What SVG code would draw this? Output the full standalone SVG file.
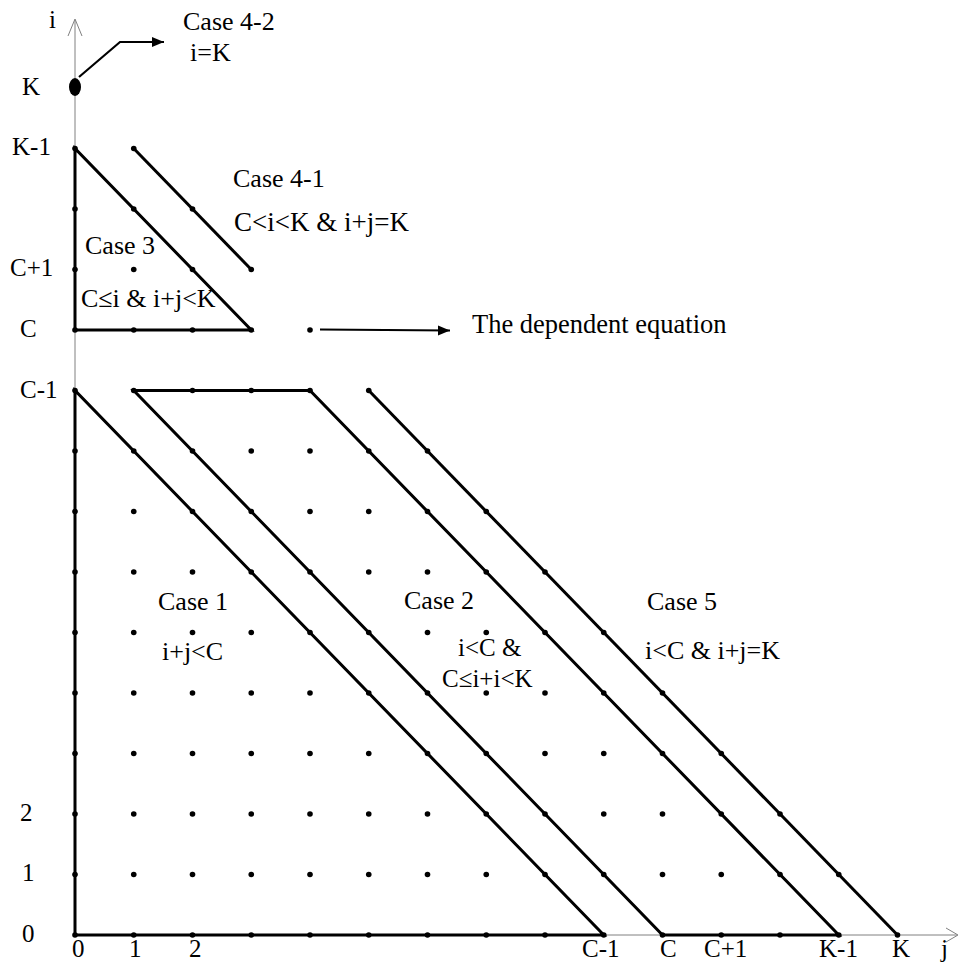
<svg xmlns="http://www.w3.org/2000/svg" xmlns:xlink="http://www.w3.org/1999/xlink" width="959" height="963" viewBox="0 0 959 963">
<style>
.ax{fill:none;stroke:#808080;stroke-width:1}
.th{fill:none;stroke:#000;stroke-width:3;stroke-linejoin:miter}
.ar{fill:none;stroke:#000;stroke-width:2.2}
</style>
<defs>
<circle id="p" r="2.8" fill="#000"/>
<marker id="ah" markerUnits="userSpaceOnUse" markerWidth="14" markerHeight="12" refX="12" refY="5" orient="auto">
<path d="M0,0 L12,5 L0,10 Z" fill="#000"/>
</marker>
</defs>
<rect width="959" height="963" fill="#fff"/>
<g id="axes">
<path class="ax" d="M75,935 V20 M68,36 L75,19 L82,36"/>
<path class="ax" d="M75,935 H957 M946,928 L958,935 L946,942"/>
</g>
<g id="connectors">
<g id="case1-region"><path class="th" d="M75,390.5 L75,935 L603.75,935 Z"/></g>
<g id="case2-region"><path class="th" d="M133.75,390.5 L310,390.5 L838.75,935 L662.5,935 Z"/></g>
<g id="case5-line"><path class="th" d="M368.75,390.5 L897.5,935"/></g>
<g id="case3-region"><path class="th" d="M75,148.5 L75,330 L251.25,330 Z"/></g>
<g id="case41-line"><path class="th" d="M133.75,148.5 L251.25,269.5"/></g>
<path class="ar" d="M79,77 L120,42 L164,42" marker-end="url(#ah)"/>
<path class="ar" d="M320,329.5 L450,330.5" marker-end="url(#ah)"/>
</g>
<g id="dots">
<ellipse cx="75" cy="87" rx="6" ry="9" fill="#000"/>
<g transform="translate(0,935)"><use xlink:href="#p" x="75"/><use xlink:href="#p" x="133.75"/><use xlink:href="#p" x="192.5"/><use xlink:href="#p" x="251.25"/><use xlink:href="#p" x="310"/><use xlink:href="#p" x="368.75"/><use xlink:href="#p" x="427.5"/><use xlink:href="#p" x="486.25"/><use xlink:href="#p" x="545"/><use xlink:href="#p" x="603.75"/><use xlink:href="#p" x="662.5"/><use xlink:href="#p" x="721.25"/><use xlink:href="#p" x="780"/><use xlink:href="#p" x="838.75"/><use xlink:href="#p" x="897.5"/></g>
<g transform="translate(0,874.5)"><use xlink:href="#p" x="75"/><use xlink:href="#p" x="133.75"/><use xlink:href="#p" x="192.5"/><use xlink:href="#p" x="251.25"/><use xlink:href="#p" x="310"/><use xlink:href="#p" x="368.75"/><use xlink:href="#p" x="427.5"/><use xlink:href="#p" x="486.25"/><use xlink:href="#p" x="545"/><use xlink:href="#p" x="603.75"/><use xlink:href="#p" x="662.5"/><use xlink:href="#p" x="721.25"/><use xlink:href="#p" x="780"/><use xlink:href="#p" x="838.75"/></g>
<g transform="translate(0,814)"><use xlink:href="#p" x="75"/><use xlink:href="#p" x="133.75"/><use xlink:href="#p" x="192.5"/><use xlink:href="#p" x="251.25"/><use xlink:href="#p" x="310"/><use xlink:href="#p" x="368.75"/><use xlink:href="#p" x="427.5"/><use xlink:href="#p" x="486.25"/><use xlink:href="#p" x="545"/><use xlink:href="#p" x="603.75"/><use xlink:href="#p" x="662.5"/><use xlink:href="#p" x="721.25"/><use xlink:href="#p" x="780"/></g>
<g transform="translate(0,753.5)"><use xlink:href="#p" x="75"/><use xlink:href="#p" x="133.75"/><use xlink:href="#p" x="192.5"/><use xlink:href="#p" x="251.25"/><use xlink:href="#p" x="310"/><use xlink:href="#p" x="368.75"/><use xlink:href="#p" x="427.5"/><use xlink:href="#p" x="486.25"/><use xlink:href="#p" x="545"/><use xlink:href="#p" x="603.75"/><use xlink:href="#p" x="662.5"/><use xlink:href="#p" x="721.25"/></g>
<g transform="translate(0,693)"><use xlink:href="#p" x="75"/><use xlink:href="#p" x="133.75"/><use xlink:href="#p" x="192.5"/><use xlink:href="#p" x="251.25"/><use xlink:href="#p" x="310"/><use xlink:href="#p" x="368.75"/><use xlink:href="#p" x="427.5"/><use xlink:href="#p" x="486.25"/><use xlink:href="#p" x="545"/><use xlink:href="#p" x="603.75"/><use xlink:href="#p" x="662.5"/></g>
<g transform="translate(0,632.5)"><use xlink:href="#p" x="75"/><use xlink:href="#p" x="133.75"/><use xlink:href="#p" x="192.5"/><use xlink:href="#p" x="251.25"/><use xlink:href="#p" x="310"/><use xlink:href="#p" x="368.75"/><use xlink:href="#p" x="427.5"/><use xlink:href="#p" x="486.25"/><use xlink:href="#p" x="545"/><use xlink:href="#p" x="603.75"/></g>
<g transform="translate(0,572)"><use xlink:href="#p" x="75"/><use xlink:href="#p" x="133.75"/><use xlink:href="#p" x="192.5"/><use xlink:href="#p" x="251.25"/><use xlink:href="#p" x="310"/><use xlink:href="#p" x="368.75"/><use xlink:href="#p" x="427.5"/><use xlink:href="#p" x="486.25"/><use xlink:href="#p" x="545"/></g>
<g transform="translate(0,511.5)"><use xlink:href="#p" x="75"/><use xlink:href="#p" x="133.75"/><use xlink:href="#p" x="192.5"/><use xlink:href="#p" x="251.25"/><use xlink:href="#p" x="310"/><use xlink:href="#p" x="368.75"/><use xlink:href="#p" x="427.5"/><use xlink:href="#p" x="486.25"/></g>
<g transform="translate(0,451)"><use xlink:href="#p" x="75"/><use xlink:href="#p" x="133.75"/><use xlink:href="#p" x="192.5"/><use xlink:href="#p" x="251.25"/><use xlink:href="#p" x="310"/><use xlink:href="#p" x="368.75"/><use xlink:href="#p" x="427.5"/></g>
<g transform="translate(0,390.5)"><use xlink:href="#p" x="75"/><use xlink:href="#p" x="133.75"/><use xlink:href="#p" x="192.5"/><use xlink:href="#p" x="251.25"/><use xlink:href="#p" x="310"/><use xlink:href="#p" x="368.75"/></g>
<g transform="translate(0,330)"><use xlink:href="#p" x="75"/><use xlink:href="#p" x="133.75"/><use xlink:href="#p" x="192.5"/><use xlink:href="#p" x="251.25"/><use xlink:href="#p" x="310"/></g>
<g transform="translate(0,269.5)"><use xlink:href="#p" x="75"/><use xlink:href="#p" x="133.75"/><use xlink:href="#p" x="192.5"/><use xlink:href="#p" x="251.25"/></g>
<g transform="translate(0,209)"><use xlink:href="#p" x="75"/><use xlink:href="#p" x="133.75"/><use xlink:href="#p" x="192.5"/></g>
<g transform="translate(0,148.5)"><use xlink:href="#p" x="75"/><use xlink:href="#p" x="133.75"/></g>
</g>
<g id="labels" font-family="Liberation Serif, Tinos, DejaVu Serif, serif" font-size="26" fill="#000">
<g id="axis-labels" font-size="25">
<text x="49" y="28">i</text>
<text x="22" y="95">K</text>
<text x="12" y="155">K-1</text>
<text x="10" y="276">C+1</text>
<text x="20" y="337">C</text>
<text x="20" y="398">C-1</text>
<text x="20" y="821">2</text>
<text x="22" y="881">1</text>
<text x="22" y="942">0</text>
<text x="72" y="957">0</text>
<text x="129" y="957">1</text>
<text x="189" y="957">2</text>
<text x="582" y="957">C-1</text>
<text x="660" y="957">C</text>
<text x="704" y="957">C+1</text>
<text x="819" y="957">K-1</text>
<text x="892" y="957">K</text>
<text x="941" y="957">j</text>
</g>
<g id="case-labels">
<text x="183" y="30">Case 4-2</text>
<text x="190" y="61">i=K</text>
<text x="233" y="187">Case 4-1</text>
<text x="234" y="231" font-size="27">C&lt;i&lt;K &amp; i+j=K</text>
<text x="85" y="254">Case 3</text>
<text x="81" y="307">C≤i &amp; i+j&lt;K</text>
<text x="472" y="333" font-size="26.5">The dependent equation</text>
<text x="158" y="610">Case 1</text>
<text x="162" y="660">i+j&lt;C</text>
<text x="404" y="609">Case 2</text>
<text x="458" y="656" font-size="25">i&lt;C &amp;</text>
<text x="442" y="687" font-size="25">C≤i+i&lt;K</text>
<text x="647" y="610">Case 5</text>
<text x="645" y="659">i&lt;C &amp; i+j=K</text>
</g>
</g>
</svg>
